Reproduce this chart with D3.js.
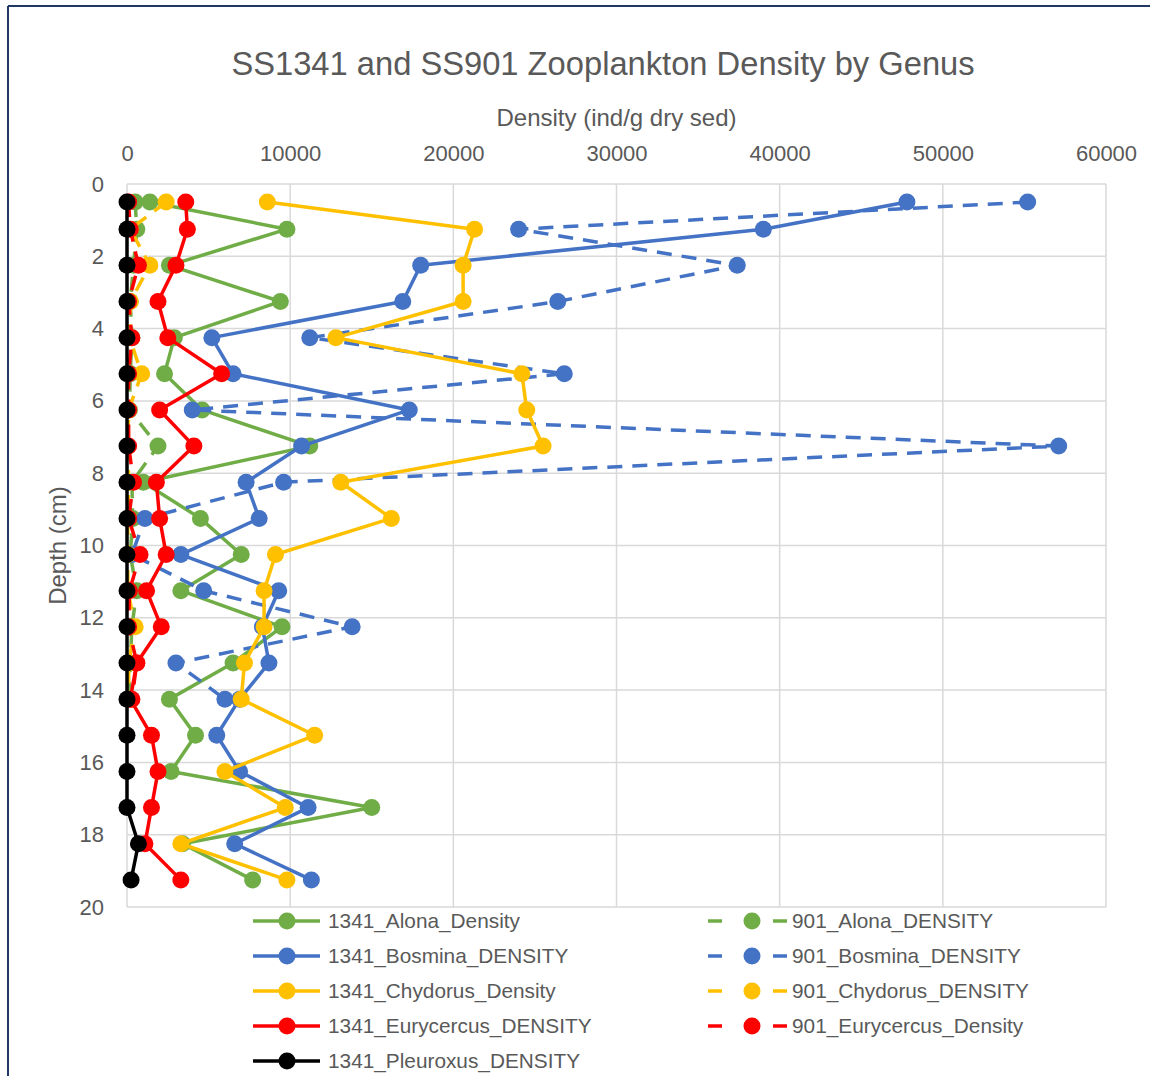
<!DOCTYPE html>
<html>
<head>
<meta charset="utf-8">
<script src="https://cdn.jsdelivr.net/npm/d3@7"></script>
<style>
  html, body { margin: 0; padding: 0; background: #ffffff; }
  svg { display: block; }
  text { font-family: "Liberation Sans", Arial, sans-serif; fill: #595959; }
</style>
</head>
<body>
<svg id="chart" width="1150" height="1076"></svg>
<script>
// ---------- data ----------
const depths1341 = [0.5, 1.25, 2.25, 3.25, 4.25, 5.25, 6.25, 7.25, 8.25, 9.25, 10.25, 11.25, 12.25, 13.25, 14.25, 15.25, 16.25, 17.25, 18.25, 19.25];
const depths901 = [0.5, 1.25, 2.25, 3.25, 4.25, 5.25, 6.25, 7.25, 8.25, 9.25, 10.25, 11.25, 12.25, 13.25, 14.25];

const alona1341 = [1400, 9800, 2600, 9400, 2900, 2300, 4600, 11200, 1000, 4500, 7000, 3300, 9500, 6500, 2600, 4200, 2700, 15000, 3400, 7700];
const bosmina1341 = [47800, 39000, 18000, 16900, 5200, 6500, 17300, 10700, 7300, 8100, 3300, 9300, 8300, 8700, 6900, 5500, 6900, 11100, 6600, 11300];
const chydorus1341 = [8600, 21300, 20600, 20600, 12800, 24200, 24500, 25500, 13100, 16200, 9100, 8400, 8400, 7200, 7000, 11500, 6000, 9700, 3300, 9800];
const eurycercus1341 = [3600, 3700, 3000, 1900, 2500, 5800, 2000, 4100, 1800, 2000, 2400, 1200, 2100, 600, 200, 1500, 1900, 1500, 1100, 3300];
const pleuroxus1341 = [0, 0, 0, 0, 0, 0, 0, 0, 0, 0, 0, 0, 0, 0, 0, 0, 0, 0, 700, 250];

const alona901 = [500, 600, 400, 200, 300, 200, 150, 1900, 300, 350, 200, 600, 300, 200, 100];
const bosmina901 = [55200, 24000, 37400, 26400, 11200, 26800, 4000, 57100, 9600, 1100, 300, 4700, 13800, 3000, 6000];
const chydorus901 = [2400, 200, 1400, 200, 150, 900, 100, 50, 100, 50, 50, 50, 500, 100, 100];
const eurycercus901 = [100, 200, 700, 100, 300, 100, 100, 100, 400, 100, 800, 150, 100, 600, 300];

const xTicks = [0, 10000, 20000, 30000, 40000, 50000, 60000];
const yTicks = [0, 2, 4, 6, 8, 10, 12, 14, 16, 18, 20];

const chartTitle = "SS1341 and SS901 Zooplankton Density by Genus";
const xTitle = "Density (ind/g dry sed)";
const yTitle = "Depth (cm)";

// series in Excel drawing order (legend is filled row-wise)
const series = [
  {name: "1341_Alona_Density", depths: depths1341, values: alona1341, color: "#70AD47", dashed: false},
  {name: "901_Alona_DENSITY", depths: depths901, values: alona901, color: "#70AD47", dashed: true},
  {name: "1341_Bosmina_DENSITY", depths: depths1341, values: bosmina1341, color: "#4472C4", dashed: false},
  {name: "901_Bosmina_DENSITY", depths: depths901, values: bosmina901, color: "#4472C4", dashed: true},
  {name: "1341_Chydorus_Density", depths: depths1341, values: chydorus1341, color: "#FFC000", dashed: false},
  {name: "901_Chydorus_DENSITY", depths: depths901, values: chydorus901, color: "#FFC000", dashed: true},
  {name: "1341_Eurycercus_DENSITY", depths: depths1341, values: eurycercus1341, color: "#FF0000", dashed: false},
  {name: "901_Eurycercus_Density", depths: depths901, values: eurycercus901, color: "#FF0000", dashed: true},
  {name: "1341_Pleuroxus_DENSITY", depths: depths1341, values: pleuroxus1341, color: "#000000", dashed: false}
];

// ---------- layout ----------
const svg = d3.select("#chart");
const plot = {left: 127, right: 1106, top: 184, bottom: 907};
const x = d3.scaleLinear().domain([0, 60000]).range([plot.left, plot.right]);
const y = d3.scaleLinear().domain([0, 20]).range([plot.top, plot.bottom]);
const dash = "15,10";
const lw = 3.5;
const mr = 8.5;

// outer frame (partially visible)
svg.append("line").attr("x1", 8).attr("y1", 6).attr("x2", 8).attr("y2", 1076)
  .attr("stroke", "#203864").attr("stroke-width", 2);
svg.append("line").attr("x1", 8).attr("y1", 6).attr("x2", 1150).attr("y2", 6)
  .attr("stroke", "#203864").attr("stroke-width", 2);

// gridlines
const grid = svg.append("g");
grid.selectAll("line.v").data(xTicks).join("line")
  .attr("x1", d => x(d)).attr("x2", d => x(d))
  .attr("y1", plot.top).attr("y2", plot.bottom)
  .attr("stroke", "#D9D9D9").attr("stroke-width", 1.5);
grid.selectAll("line.h").data(yTicks).join("line")
  .attr("x1", plot.left).attr("x2", plot.right)
  .attr("y1", d => y(d)).attr("y2", d => y(d))
  .attr("stroke", "#D9D9D9").attr("stroke-width", 1.5);

// axes (labels only, via d3 axis)
const xAxis = d3.axisTop(x).tickValues(xTicks).tickFormat(d3.format("d")).tickSize(0).tickPadding(0);
const gx = svg.append("g").attr("transform", `translate(0,${161})`).call(xAxis);
gx.select(".domain").remove();
gx.selectAll("text").style("font-size", "22px").attr("fill", "#595959")
  .style("font-family", '"Liberation Sans", Arial, sans-serif');

const yAxis = d3.axisLeft(y).tickValues(yTicks).tickFormat(d3.format("d")).tickSize(0).tickPadding(0);
const gy = svg.append("g").attr("transform", `translate(${104},0)`).call(yAxis);
gy.select(".domain").remove();
gy.selectAll("text").style("font-size", "22px").attr("fill", "#595959")
  .style("font-family", '"Liberation Sans", Arial, sans-serif');

// titles
svg.append("text").attr("x", 603).attr("y", 75).attr("text-anchor", "middle")
  .style("font-size", "32.7px").text(chartTitle);
svg.append("text").attr("x", (plot.left + plot.right) / 2).attr("y", 126).attr("text-anchor", "middle")
  .style("font-size", "24px").text(xTitle);
svg.append("text").attr("transform", `translate(66,${(plot.top + plot.bottom) / 2}) rotate(-90)`)
  .attr("text-anchor", "middle").style("font-size", "24px").text(yTitle);

// series
const line = d3.line().x(d => x(d.v)).y(d => y(d.d));
const gSeries = svg.append("g");
series.forEach(s => {
  const pts = s.depths.map((d, i) => ({d: d, v: s.values[i]}));
  const g = gSeries.append("g");
  g.append("path").datum(pts).attr("d", line)
    .attr("fill", "none").attr("stroke", s.color).attr("stroke-width", lw)
    .attr("stroke-linejoin", "round")
    .attr("stroke-dasharray", s.dashed ? dash : null);
  g.selectAll("circle").data(pts).join("circle")
    .attr("cx", d => x(d.v)).attr("cy", d => y(d.d)).attr("r", mr)
    .attr("fill", s.color);
});

// legend
const legRowY = [921, 956, 991, 1026, 1061];
const legend = svg.append("g");
series.forEach((s, i) => {
  const col = i % 2;
  const row = Math.floor(i / 2);
  const yy = legRowY[row];
  const g = legend.append("g");
  if (!s.dashed) {
    g.append("line").attr("x1", 253).attr("x2", 320).attr("y1", yy).attr("y2", yy)
      .attr("stroke", s.color).attr("stroke-width", lw);
    g.append("circle").attr("cx", 287).attr("cy", yy).attr("r", mr).attr("fill", s.color);
    g.append("text").attr("x", 328).attr("y", yy).attr("dy", "0.35em")
      .style("font-size", "20.8px").text(s.name);
  } else {
    g.append("line").attr("x1", 708).attr("x2", 722).attr("y1", yy).attr("y2", yy)
      .attr("stroke", s.color).attr("stroke-width", lw);
    g.append("line").attr("x1", 773).attr("x2", 787).attr("y1", yy).attr("y2", yy)
      .attr("stroke", s.color).attr("stroke-width", lw);
    g.append("circle").attr("cx", 752).attr("cy", yy).attr("r", mr).attr("fill", s.color);
    g.append("text").attr("x", 792).attr("y", yy).attr("dy", "0.35em")
      .style("font-size", "20.8px").text(s.name);
  }
});
</script>
</body>
</html>
